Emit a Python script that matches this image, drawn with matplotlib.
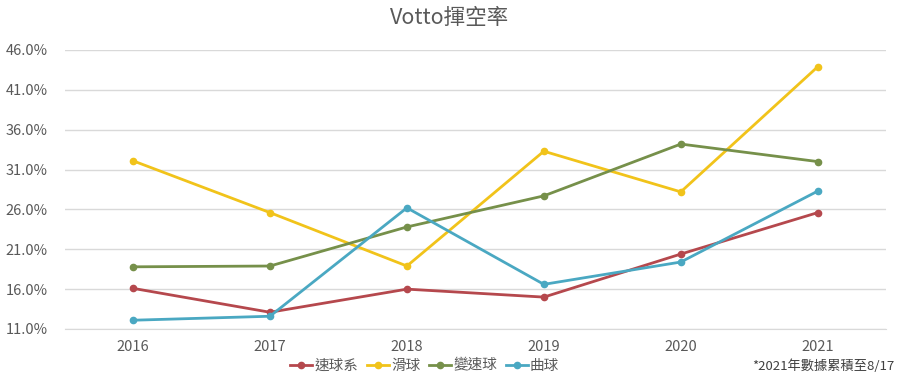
import matplotlib.pyplot as plt

plt.rcParams['font.family'] = ['Noto Sans CJK TC', 'DejaVu Sans']

# Data
years = ['2016', '2017', '2018', '2019', '2020', '2021']
fastball = [16.1, 13.1, 16.0, 15.0, 20.4, 25.6]
slider = [32.1, 25.6, 18.9, 33.3, 28.2, 43.9]
changeup = [18.8, 18.9, 23.8, 27.7, 34.2, 32.0]
curveball = [12.1, 12.6, 26.2, 16.6, 19.4, 28.3]
yticks = [11, 16, 21, 26, 31, 36, 41, 46]

series = [
    ('速球系', fastball, '#b5484d'),
    ('滑球', slider, '#f1c31a'),
    ('變速球', changeup, '#76904a'),
    ('曲球', curveball, '#4aa8c2'),
]

fig = plt.figure(figsize=(9, 3.83), dpi=100)
ax = fig.add_axes([0.0717, 0.141, 0.913, 0.7285])

x = list(range(len(years)))
for name, vals, col in series:
    ax.plot(x, vals, color=col, lw=2, marker='o', ms=4.5, label=name)

ax.set_xlim(-0.5, len(years) - 0.5)
ax.set_ylim(11, 46)
ax.set_yticks(yticks)
ax.set_yticklabels([f'{v:.1f}%' for v in yticks])
ax.set_xticks(x)
ax.set_xticklabels(years)
ax.grid(axis='y', color='#d9d9d9', lw=1)
ax.set_axisbelow(True)
for s in ['top', 'right', 'left']:
    ax.spines[s].set_visible(False)
ax.spines['bottom'].set_color('#d9d9d9')
ax.tick_params(length=0, colors='#595959', labelsize=10.5)
ax.tick_params(axis='y', pad=12)
ax.tick_params(axis='x', pad=8)

fig.text(0.5, 0.953, 'Votto揮空率', ha='center', va='center', fontsize=15.5, color='#595959')
fig.legend(loc='center', bbox_to_anchor=(0.472, 0.045), ncol=4, frameon=False,
           fontsize=10.5, labelcolor='#595959', handlelength=1.5, columnspacing=0.6,
           handletextpad=0.15)
fig.text(0.994, 0.045, '*2021年數據累積至8/17', ha='right', va='center', fontsize=9.5,
         color='#404040')

fig.savefig('out.png', dpi=100)
